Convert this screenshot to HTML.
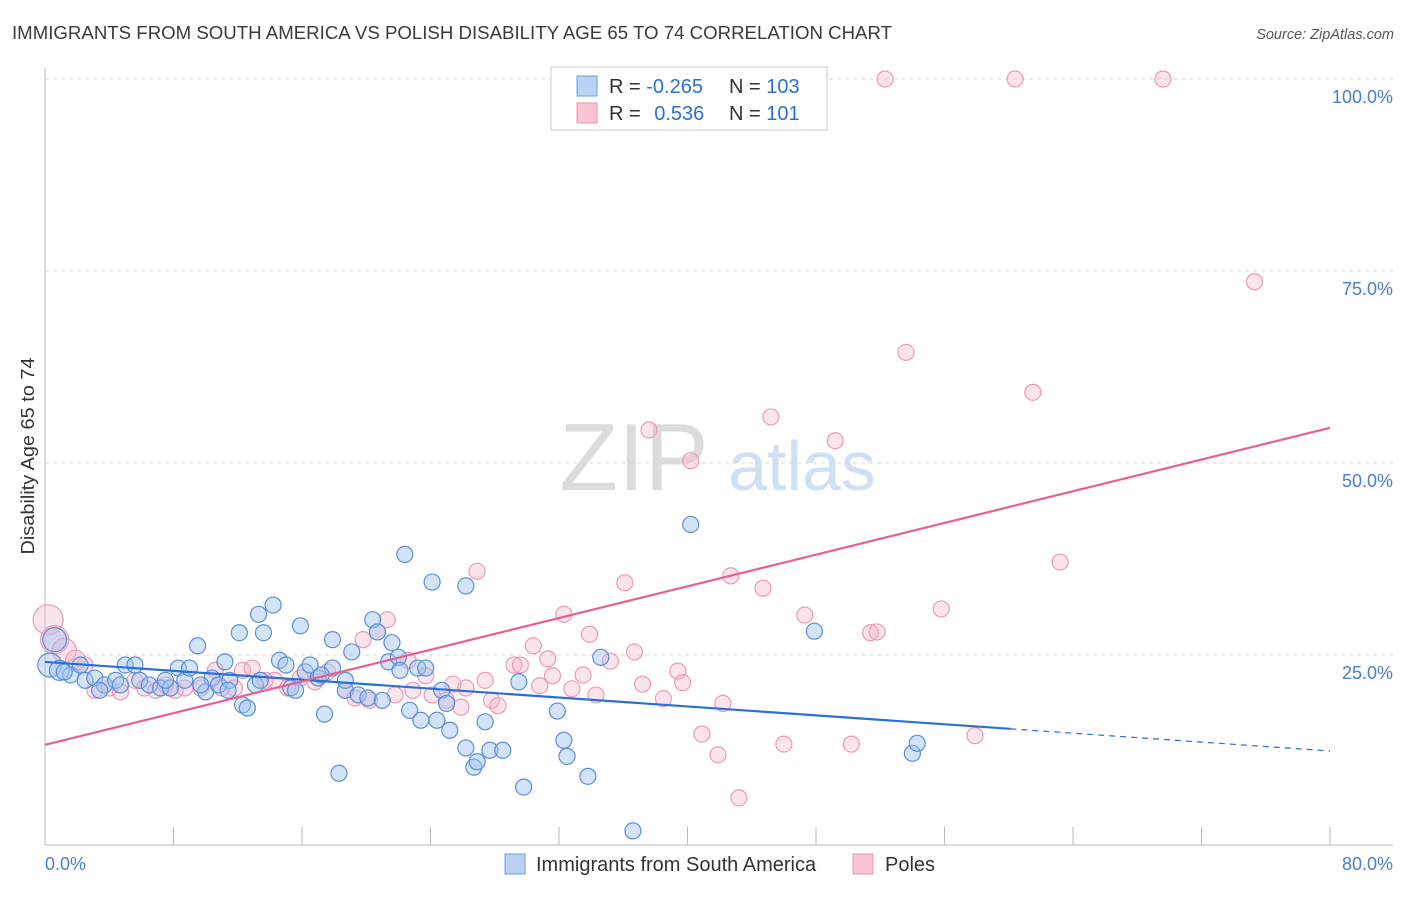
<!DOCTYPE html>
<html><head><meta charset="utf-8"><style>
body{margin:0;background:#fff;font-family:"Liberation Sans",sans-serif;}
svg text{font-family:"Liberation Sans",sans-serif;}
</style></head><body>
<svg id="chart" width="1406" height="892">
<text x="12" y="39" font-size="18" fill="#3a3a3a" textLength="880" lengthAdjust="spacingAndGlyphs">IMMIGRANTS FROM SOUTH AMERICA VS POLISH DISABILITY AGE 65 TO 74 CORRELATION CHART</text>
<text x="1394" y="39" font-size="14.5" fill="#555" font-style="italic" text-anchor="end">Source: ZipAtlas.com</text>
<text x="0" y="0" transform="translate(34,456) rotate(-90)" font-size="18" fill="#333" text-anchor="middle" textLength="197" lengthAdjust="spacingAndGlyphs">Disability Age 65 to 74</text>
<g>
<text x="634" y="490" font-size="96" fill="#dcdcdc" font-family="Liberation Serif" text-anchor="middle">ZIP</text>
<text x="802" y="490" font-size="70" fill="#cfe0f5" text-anchor="middle">atlas</text>
</g>
<g id="grid"></g><g id="axes"></g><g id="pts"></g><g id="lines"></g>
<g>
<rect x="551" y="67" width="276" height="63" fill="#fff" stroke="#ccc"/>
<rect x="577" y="76" width="20" height="20" fill="#b8d3f5" stroke="#6d9ee0"/>
<rect x="577" y="103" width="20" height="20" fill="#f9c5d5" stroke="#eb94b0"/>
<text x="609" y="93" font-size="20" fill="#333">R = <tspan fill="#2a6fd6">-0.265</tspan></text>
<text x="729" y="93" font-size="20" fill="#333">N = <tspan fill="#2a6fd6">103</tspan></text>
<text x="609" y="120" font-size="20" fill="#333">R = <tspan fill="#2a6fd6" dx="8">0.536</tspan></text>
<text x="729" y="120" font-size="20" fill="#333">N = <tspan fill="#2a6fd6">101</tspan></text>
</g>
<g>
<rect x="505" y="854" width="20" height="20" fill="#b8d3f5" stroke="#6d9ee0"/>
<text x="536" y="871" font-size="20" fill="#333">Immigrants from South America</text>
<rect x="853" y="854" width="20" height="20" fill="#f9c5d5" stroke="#eb94b0"/>
<text x="885" y="871" font-size="20" fill="#333">Poles</text>
</g>
</svg>
<script>
const xTicks=[0,8,16,24,32,40,48,56,64,72,80];
const yTicks=[25,50,75,100];
const yTickLabels=["25.0%","50.0%","75.0%","100.0%"];
const xEndLabels=["0.0%","80.0%"];
const blueX=[0.3,0.6,0.9,1.6,2.2,2.5,3.1,3.7,4.4,5,5.6,5.9,6.5,7.2,7.8,8.3,8.7,9,9.5,10,10.4,10.8,11.2,11.5,12.1,12.3,12.6,13.1,13.6,13.3,14.2,14.6,15,15.3,15.9,16.2,16.5,17,17.4,17.9,17.9,18.3,18.7,19.1,19.5,20.1,20.4,20.7,21,21.4,21.6,22,22.4,22.7,23.2,23.4,23.7,24.1,24.4,24.7,25,25.2,26.2,26.2,26.7,26.9,27.4,27.7,28.5,29.5,29.8,31.9,32.3,32.5,33.8,34.6,36.6,40.2,47.9,54,54.3,1.2,3.4,4.7,7.5,9.7,13.4,15.6,17.2,18.7,22.1,11.4];
const blueY=[23.7,27,23,22.4,23.7,21.7,22,21.1,21.7,23.7,23.7,21.7,21.1,20.7,20.7,23.3,21.7,23.3,26.2,20.2,22,21.1,24.1,21.7,27.9,18.5,18.1,21.1,27.9,30.3,31.5,24.3,23.7,20.7,28.8,22.8,23.7,22,17.3,27,23.3,9.6,20.4,25.4,19.8,19.4,29.6,28,19.1,24.1,26.6,24.7,38.1,17.8,23.3,16.5,23.3,34.5,16.5,20.4,18.7,15.2,34,12.9,10.4,11.1,16.3,12.6,12.6,21.5,7.8,17.7,13.9,11.8,9.2,24.7,2.1,42,28.1,12.2,13.5,22.8,20.4,21.1,21.7,21.1,21.7,20.4,22.4,21.7,23,20.4];
const blueR=[12,12,10];
const pinkX=[0.2,0.6,1.2,1.9,2.5,3.1,4,4.7,5.6,6.2,6.9,7.5,8.1,8.7,9.7,10.6,11,11.8,12.3,12.9,13.7,14.3,15.1,15.9,16.8,17.6,18.7,19.3,19.8,20.2,20.7,21.3,21.8,22.6,22.9,23.7,24.1,25,25.4,25.9,26.2,26.9,27.4,27.8,28.2,29.2,29.6,30.4,30.8,31.3,31.6,32.3,32.8,33.5,33.9,34.3,35.2,36.1,36.7,37.2,37.6,38.5,39.4,39.7,40.2,40.9,41.9,42.2,42.7,43.2,44.7,45.2,46,47.3,49.2,50.2,51.4,51.8,52.3,53.6,55.8,57.9,60.4,61.5,63.2,69.6,75.3];
const pinkY=[29.6,27,25.6,24.3,23.7,20.4,20.7,20.2,21.7,20.7,20.4,21.1,20.4,20.7,20.7,23,20.7,20.7,23,23.3,21.7,21.7,20.7,22,21.5,22.8,20.4,19.4,27,19.1,28,29.6,19.8,24.3,20.4,22.3,19.8,19.1,21.2,18.2,20.7,35.9,21.7,19.1,18.4,23.7,23.7,26.2,21,24.5,22.3,30.3,20.6,22.4,27.7,19.8,24.2,34.4,25.4,21.2,54.3,19.3,22.9,21.4,50.3,14.7,12,18.7,35.3,6.4,33.7,56,13.4,30.2,52.9,13.4,27.9,28,100,64.4,31,14.5,100,59.2,37.1,100,73.6];
const pinkR=[15,14,12,10];
const blueFit=[24.1,-0.145], blueSolidEnd=60.1;
const pinkFit=[13.3,0.516];
const NS="http://www.w3.org/2000/svg";
const X0=45,X1=1330,Y0=847,Y100=79;
const sx=v=>X0+(X1-X0)*v/80, sy=v=>Y0-(Y0-Y100)*v/100;
function mk(tag,attrs,parent){const e=document.createElementNS(NS,tag);for(const k in attrs)e.setAttribute(k,attrs[k]);parent.appendChild(e);return e;}
const grid=document.getElementById('grid'),axes=document.getElementById('axes'),pts=document.getElementById('pts'),lines=document.getElementById('lines');
yTicks.forEach((t,i)=>{
 const l=mk('line',{x1:X0,x2:1393,y1:sy(t),y2:sy(t),stroke:'#d8d8d8','stroke-dasharray':'4,4'},grid);
 
 
 const tx=mk('text',{x:1393,y:sy(t)+24,'font-size':18,fill:'#4a7fd0','text-anchor':'end'},axes);
 tx.textContent=yTickLabels[i];
 
 
});
const ax=mk('line',{x1:X0,x2:X0,y1:68,y2:845,stroke:'#bbb'},axes);


const bx=mk('line',{x1:X0,x2:1393,y1:845,y2:845,stroke:'#bbb'},axes);


xTicks.forEach(t=>{
 const k=mk('line',{x1:sx(t),x2:sx(t),y1:827,y2:845,stroke:'#bbb'},axes);
 
 
});
const l0=mk('text',{x:45,y:870,'font-size':18,fill:'#4a7fd0'},axes);l0.textContent=xEndLabels[0];


const l1=mk('text',{x:1393,y:870,'font-size':18,fill:'#4a7fd0','text-anchor':'end'},axes);l1.textContent=xEndLabels[1];


pinkX.forEach((x,i)=>{
 const c=mk('circle',{cx:sx(x),cy:sy(pinkY[i]),r:pinkR[i]||8,fill:'rgba(246,178,200,0.35)',stroke:'#ec9ab4','stroke-width':1.2},pts);
 
 
});
blueX.forEach((x,i)=>{
 const c=mk('circle',{cx:sx(x),cy:sy(blueY[i]),r:blueR[i]||8,fill:'rgba(160,196,240,0.45)',stroke:'#5b8fd8','stroke-width':1.2},pts);
 
 
});
const bf=x=>blueFit[0]+blueFit[1]*x, pf=x=>pinkFit[0]+pinkFit[1]*x;
const b1=mk('line',{x1:sx(0),y1:sy(bf(0)),x2:sx(blueSolidEnd),y2:sy(bf(blueSolidEnd)),stroke:'#2a6fd6','stroke-width':2.2},lines);


const b2=mk('line',{x1:sx(blueSolidEnd),y1:sy(bf(blueSolidEnd)),x2:sx(80),y2:sy(bf(80)),stroke:'#2a6fd6','stroke-width':1.2,'stroke-dasharray':'6,5'},lines);


const p1=mk('line',{x1:sx(0),y1:sy(pf(0)),x2:sx(80),y2:sy(pf(80)),stroke:'#e8608c','stroke-width':2.2},lines);


</script>
</body></html>
